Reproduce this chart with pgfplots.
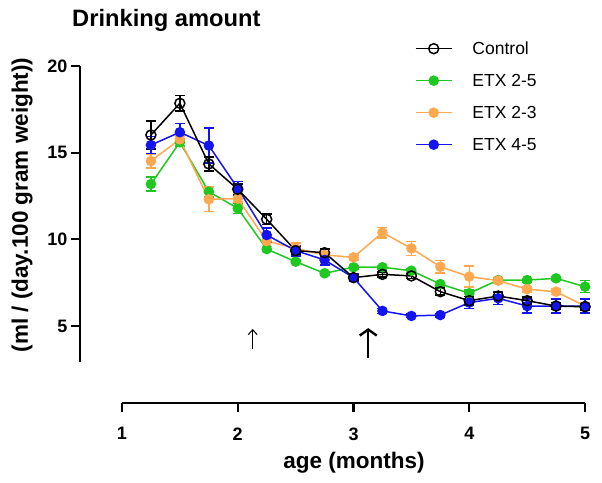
\documentclass[border=0pt]{standalone}
\usepackage{pgfplots}
\pgfplotsset{compat=1.18}
\usepackage{pgfplotstable}
\usetikzlibrary{arrows.meta}
\usepackage{fontspec}
\setmainfont{Liberation Sans}
\definecolor{cgreen}{RGB}{30,200,30}
\definecolor{corange}{RGB}{255,168,80}
\definecolor{cblue}{RGB}{20,20,240}

\pgfplotstableread{
x y e
1.25 16.02 0.8
1.5 17.85 0.45
1.75 14.35 0.4
2 12.89 0.3
2.25 11.16 0.3
2.5 9.35 0.2
2.75 9.23 0.2
3 7.79 0.15
3.25 7.98 0.15
3.5 7.89 0.15
3.75 6.98 0.2
4 6.46 0.25
4.25 6.73 0.2
4.5 6.46 0.2
4.75 6.15 0.2
5 6.11 0.2
}\tcontrol

\pgfplotstableread{
x y e
1.25 13.19 0.4
1.5 15.6 0.2
1.75 12.75 0.3
2 11.79 0.3
2.25 9.44 0.15
2.5 8.71 0.1
2.75 8.04 0.1
3 8.39 0.1
3.25 8.39 0.1
3.5 8.19 0.1
3.75 7.42 0.1
4 6.89 0.2
4.25 7.65 0.15
4.5 7.65 0.1
4.75 7.75 0.1
5 7.27 0.35
}\tgreen

\pgfplotstableread{
x y e
1.25 14.52 0.4
1.5 15.77 0.2
1.75 12.31 0.7
2 12.35 0.2
2.25 9.9 0.3
2.5 9.48 0.3
2.75 9.1 0.15
3 8.96 0.15
3.25 10.39 0.3
3.5 9.48 0.4
3.75 8.42 0.35
4 7.85 0.6
4.25 7.62 0.15
4.5 7.12 0.15
4.75 6.98 0.15
5 6.15 0.2
}\torange

\pgfplotstableread{
x y e
1.25 15.44 0.5
1.5 16.18 0.5
1.75 15.41 1.0
2 12.95 0.4
2.25 10.25 0.4
2.5 9.35 0.3
2.75 8.81 0.3
3 7.79 0.2
3.25 5.87 0.15
3.5 5.58 0.1
3.75 5.63 0.1
4 6.35 0.35
4.25 6.6 0.35
4.5 6.15 0.4
4.75 6.15 0.4
5 6.15 0.4
}\tblue

\begin{document}
\begin{tikzpicture}
\useasboundingbox (-80pt,-79pt) rectangle (522pt,403pt);
\begin{axis}[
  scale only axis, width=512pt, height=342pt,
  xmin=0.6373, xmax=5.060, ymin=0.557, ymax=20.29,
  axis line style={draw=none},
  axis x line*=bottom, axis y line*=left,
  xtick={1,2,3,4,5}, ytick={5,10,15,20},
  tick align=outside,
  major tick length=9pt,
  tick style={line width=2.2pt, black},
  ticklabel style={font=\fontsize{18}{18}\selectfont\bfseries},
  xticklabel style={yshift=-12pt},
  /pgf/number format/assume math mode=true,
  clip=false,
  legend cell align=left,
  legend image code/.code={\draw[mark repeat=2,mark phase=2] plot coordinates {(0pt,0pt) (18pt,0pt) (36pt,0pt)};},
  legend style={draw=none, fill=none, at={(axis description cs:0.648,1.06)}, anchor=north west,
    font=\fontsize{17.5}{17.5}\selectfont, row sep=20pt,
    nodes={inner sep=0pt, text height=12pt, text depth=0pt},
    /tikz/every odd column/.append style={column sep=20pt}},
]
\addlegendimage{black, line width=1.5pt, mark=o, mark size=5pt}
\addlegendentry{Control}
\addlegendimage{cgreen, line width=1.5pt, mark=*, mark size=4.5pt, mark options={fill=cgreen}}
\addlegendentry{ETX 2-5}
\addlegendimage{corange, line width=1.5pt, mark=*, mark size=4.5pt, mark options={fill=corange}}
\addlegendentry{ETX 2-3}
\addlegendimage{cblue, line width=1.5pt, mark=*, mark size=4.5pt, mark options={fill=cblue}}
\addlegendentry{ETX 4-5}

\addplot[forget plot, cgreen, line width=1.5pt, mark=*, mark size=4.5pt, mark options={fill=cgreen},
  error bars/.cd, y dir=both, y explicit, error bar style={line width=1.5pt},
  error mark options={rotate=90, mark size=5pt, line width=1.5pt}]
  table[x=x, y=y, y error=e] {\tgreen};
\addplot[forget plot, corange, line width=1.5pt, mark=*, mark size=4.5pt, mark options={fill=corange},
  error bars/.cd, y dir=both, y explicit, error bar style={line width=1.5pt},
  error mark options={rotate=90, mark size=5pt, line width=1.5pt}]
  table[x=x, y=y, y error=e] {\torange};
\addplot[forget plot, cblue, line width=1.5pt, mark=*, mark size=4.5pt, mark options={fill=cblue},
  error bars/.cd, y dir=both, y explicit, error bar style={line width=1.5pt},
  error mark options={rotate=90, mark size=5pt, line width=1.5pt}]
  table[x=x, y=y, y error=e] {\tblue};
\addplot[forget plot, black, line width=1.5pt, mark=o, mark size=5pt,
  error bars/.cd, y dir=both, y explicit, error bar style={line width=1.5pt},
  error mark options={rotate=90, mark size=5pt, line width=1.5pt}]
  table[x=x, y=y, y error=e] {\tcontrol};

\draw[line width=2.2pt] (axis cs:0.6373,2.94) -- (axis cs:0.6373,20);
\draw[line width=2.2pt] (axis cs:1,0.557) -- (axis cs:5,0.557);
\draw[line width=1pt, -{Straight Barb[length=5pt,width=9pt]}] (axis cs:2.129,3.66) -- (axis cs:2.129,4.83);
\draw[line width=2.4pt, -{Straight Barb[length=6pt,width=17pt]}] (axis cs:3.127,3.14) -- (axis cs:3.127,4.88);
\end{axis}
\node[anchor=base west, inner sep=0pt, font=\fontsize{23.7}{23.7}\selectfont\bfseries] at (-8pt,376pt) {Drinking amount};
\node[anchor=base, inner sep=0pt, font=\fontsize{22.5}{22.5}\selectfont\bfseries] at (274pt,-65pt) {age (months)};
\node[rotate=90, inner sep=0pt, font=\fontsize{22.5}{22.5}\selectfont\bfseries] at (-58pt,198pt) {(ml / (day.100 gram weight))};
\end{tikzpicture}
\end{document}
